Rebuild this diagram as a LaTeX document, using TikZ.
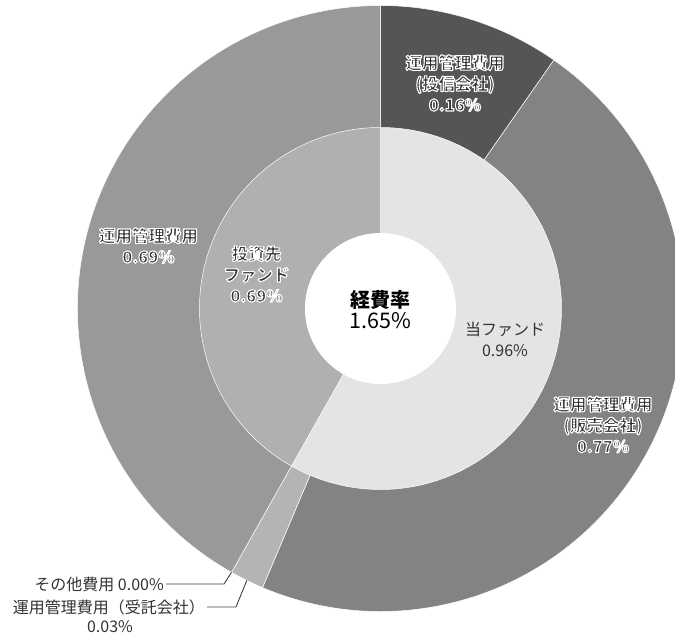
\documentclass[tikz,border=0pt]{standalone}
\usepackage{fontspec}
\setmainfont{Noto Sans CJK JP}
\definecolor{cDark}{HTML}{555555}
\definecolor{cMid}{HTML}{838383}
\definecolor{cOut}{HTML}{999999}
\definecolor{cStrip}{HTML}{B4B4B4}
\definecolor{cInv}{HTML}{B0B0B0}
\definecolor{cOwn}{HTML}{E4E4E4}
\definecolor{cTxt}{HTML}{333333}
\definecolor{cLine}{HTML}{404040}
% outlined text: fill dark, stroke white (PDF text render mode 2)
\newcommand\halotxt[1]{\special{pdf:literal direct 2 Tr 1.1 w 1 1 1 RG 1 j}#1\special{pdf:literal direct 0 Tr}}
\begin{document}
\begin{tikzpicture}[x=1pt,y=-1pt,
  seg/.style={draw=white,line width=0.5pt,line join=round},
  lbl/.style={inner sep=0pt,align=center,text=cTxt,font=\fontsize{16}{21}\selectfont},
  hlbl/.style={lbl,font=\fontsize{16.5}{21}\selectfont\bfseries},
  side/.style={lbl,inner sep=2pt},
  leader/.style={draw=cLine,line width=0.9pt}]
\useasboundingbox (0,0) rectangle (675,636);
\clip (0,0) rectangle (675,636);
\begin{scope}[shift={(380.5,308.5)}]
  % outer ring (drawn as full sectors)
  \fill[cDark,seg] (0,0) -- (-90:303) arc[start angle=-90,end angle=-55.091,radius=303] -- cycle;
  \fill[cMid,seg] (0,0) -- (-55.091:303) arc[start angle=-55.091,end angle=112.909,radius=303] -- cycle;
  \fill[cStrip,seg] (0,0) -- (112.909:303) arc[start angle=112.909,end angle=119.455,radius=303] -- cycle;
  \fill[cOut,seg] (0,0) -- (119.455:303) arc[start angle=119.455,end angle=270,radius=303] -- cycle;
  % inner ring
  \fill[cOwn,seg] (0,0) -- (-90:181) arc[start angle=-90,end angle=119.455,radius=181] -- cycle;
  \fill[cInv,seg] (0,0) -- (119.455:181) arc[start angle=119.455,end angle=270,radius=181] -- cycle;
  % hole
  \fill[white] (0,0) circle[radius=75.5];
  \coordinate (eOther) at (119.455:303);
  \coordinate (eTrust) at (116.18:303);
\end{scope}
% labels
\node[lbl] (nTotal) at (380.5,310) {\fontsize{20}{25}\selectfont\color{black}\bfseries 経費率\\\fontsize{21.5}{25}\selectfont\color{black}1.65\%};
\node[hlbl] (nToushin) at (455,83) {\halotxt{運用管理費用}\\\halotxt{(投信会社)}\\\halotxt{0.16\%}};
\node[hlbl] (nHanbai) at (603,424.5) {\halotxt{運用管理費用}\\\halotxt{(販売会社)}\\\halotxt{0.77\%}};
\node[hlbl] (nOuter) at (148.5,245.5) {\halotxt{運用管理費用}\\\halotxt{0.69\%}};
\node[hlbl] (nInv) at (256.5,274) {\halotxt{投資先}\\\halotxt{ファンド}\\\halotxt{0.69\%}};
\node[lbl] (nOwn) at (505,339) {当ファンド\\0.96\%};
\node[side,anchor=east] (nOther) at (166,584) {その他費用 0.00\%};
\node[side,anchor=east] (nTrust) at (207,607) {運用管理費用（受託会社）};
\node[lbl] (nTrustPct) at (110,627) {0.03\%};
% leaders
\coordinate (kOther) at (224,584);
\coordinate (kTrust) at (236,607);
\draw[leader] (nOther.east) -- (kOther) -- (eOther);
\draw[leader] (nTrust.east) -- (kTrust) -- (eTrust);
\end{tikzpicture}
\end{document}
